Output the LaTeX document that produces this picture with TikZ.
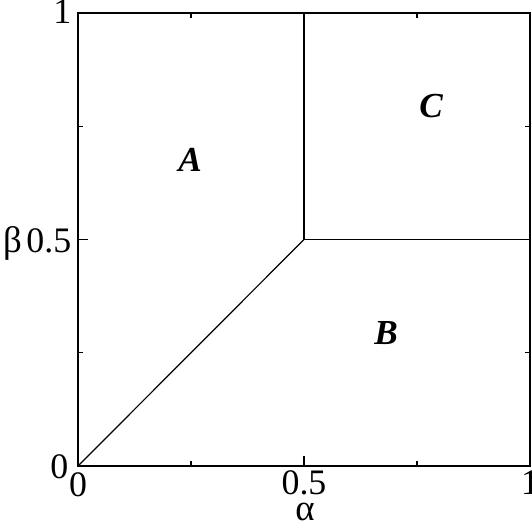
\documentclass[tikz,border=0pt]{standalone}
\usepackage{fontspec}
\setmainfont{Liberation Serif}
\usetikzlibrary{calc}
\begin{document}
\begin{tikzpicture}[x=1cm,y=1cm,
  lbl/.style={inner sep=0pt,font=\fontsize{10.2}{12}\selectfont},
  glbl/.style={inner sep=0pt,font=\fontsize{10.5}{12}\selectfont},
  reg/.style={inner sep=0pt,font=\fontsize{10}{12}\selectfont\bfseries\itshape},
  frame/.style={line width=0.18mm},
  bound/.style={line width=0.12mm}]
\useasboundingbox (0,0) rectangle (5.32,5.25);
% frame corners
\coordinate (SW) at (0.78,0.59);
\coordinate (SE) at (5.30,0.59);
\coordinate (NE) at (5.30,5.12);
\coordinate (NW) at (0.78,5.12);
\coordinate (M) at (3.04,2.855);
\coordinate (Mt) at (3.04,5.12);
\coordinate (Mr) at (5.30,2.855);
\draw[frame] (SW) -- (SE) -- (NE) -- (NW) -- cycle;
% ticks
\foreach \f/\l in {0.25/0.05,0.5/0.1,0.75/0.05}{
  \draw[bound] ($(SW)!\f!(SE)$) -- ++(0,\l);
  \draw[bound] ($(NW)!\f!(NE)$) -- ++(0,-\l);
  \draw[bound] ($(SW)!\f!(NW)$) -- ++(\l,0);
  \draw[bound] ($(SE)!\f!(NE)$) -- ++(-\l,0);
}
% boundaries
\draw[bound] (SW) -- (M);
\draw[bound] (M) -- (Mt);
\draw[bound] (M) -- (Mr);
% labels
\node[lbl,anchor=base east] (y1) at (0.72,5.01) {1};
\node[lbl,anchor=base east] (y05) at (0.72,2.73) {0.5};
\node[glbl,anchor=base east] (beta) at (0.225,2.73) {β};
\node[lbl,anchor=base east] (y0) at (0.69,0.47) {0};
\node[lbl,anchor=base] (x0) at (0.78,0.29) {0};
\node[lbl,anchor=base] (x05) at (3.04,0.31) {0.5};
\node[lbl,anchor=base] (x1) at (5.30,0.31) {1};
\node[glbl,anchor=base] (alpha) at (3.05,0.05) {α};
\node[reg] (A) at (1.90,3.65) {A};
\node[reg] (B) at (3.86,1.92) {B};
\node[reg] (C) at (4.31,4.19) {C};
\end{tikzpicture}
\end{document}
